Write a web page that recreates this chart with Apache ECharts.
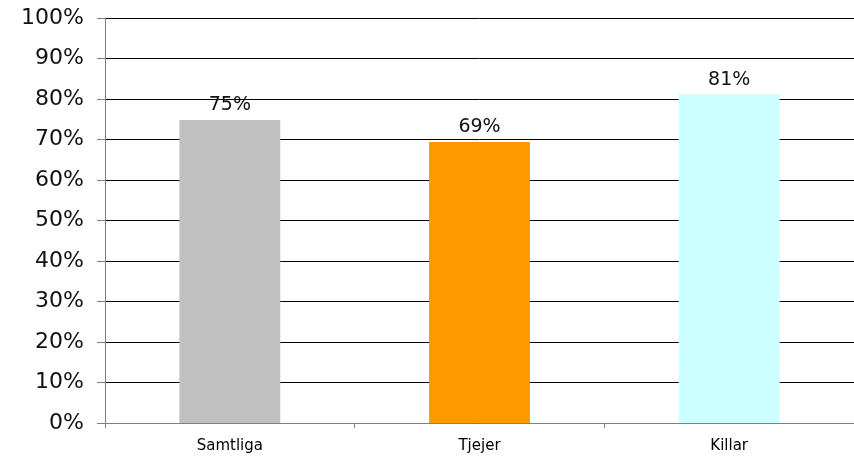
<!DOCTYPE html>
<html><head><meta charset="utf-8">
<script src="https://cdn.jsdelivr.net/npm/echarts@6/dist/echarts.min.js"></script>
<style>html,body{margin:0;padding:0;background:#fff}#c{width:854px;height:456px}</style>
</head><body><div id="c"></div>
<script>
const categories = ['Samtliga', 'Tjejer', 'Killar'];
const values = [0.748, 0.694, 0.812];
const barColors = ['#C0C0C0', '#FF9900', '#CCFFFF'];
const yTicks = [0, 0.1, 0.2, 0.3, 0.4, 0.5, 0.6, 0.7, 0.8, 0.9, 1.0];

const font = 'DejaVu Sans, Verdana, sans-serif';
const chart = echarts.init(document.getElementById('c'), null, {renderer: 'canvas'});
chart.setOption({
  animation: false,
  grid: {left: 105, right: -1, top: 18, bottom: 33, containLabel: false},
  xAxis: {
    type: 'category', data: categories, boundaryGap: true,
    axisLine: {lineStyle: {color: '#808080', width: 1}},
    axisTick: {show: true, length: 5, lineStyle: {color: '#808080'}},
    axisLabel: {color: '#000', fontFamily: font, fontSize: 15, margin: 16}
  },
  yAxis: {
    type: 'value', min: 0, max: 1, interval: 0.1,
    axisLine: {show: true, lineStyle: {color: '#808080', width: 1}},
    axisTick: {show: true, length: 8, lineStyle: {color: '#808080'}},
    splitLine: {show: true, lineStyle: {color: '#000', width: 1}},
    axisLabel: {color: '#111', fontFamily: font, fontSize: 22, margin: 21,
      formatter: v => Math.round(v * 100) + '%'}
  },
  series: [{
    type: 'bar', barWidth: '40.4%',
    data: values.map((v, i) => ({value: v, itemStyle: {color: barColors[i]}})),
    label: {show: true, position: 'top', distance: 5, color: '#111', fontFamily: font, fontSize: 19,
      formatter: p => Math.round(p.value * 100) + '%'}
  }]
});
</script></body></html>
